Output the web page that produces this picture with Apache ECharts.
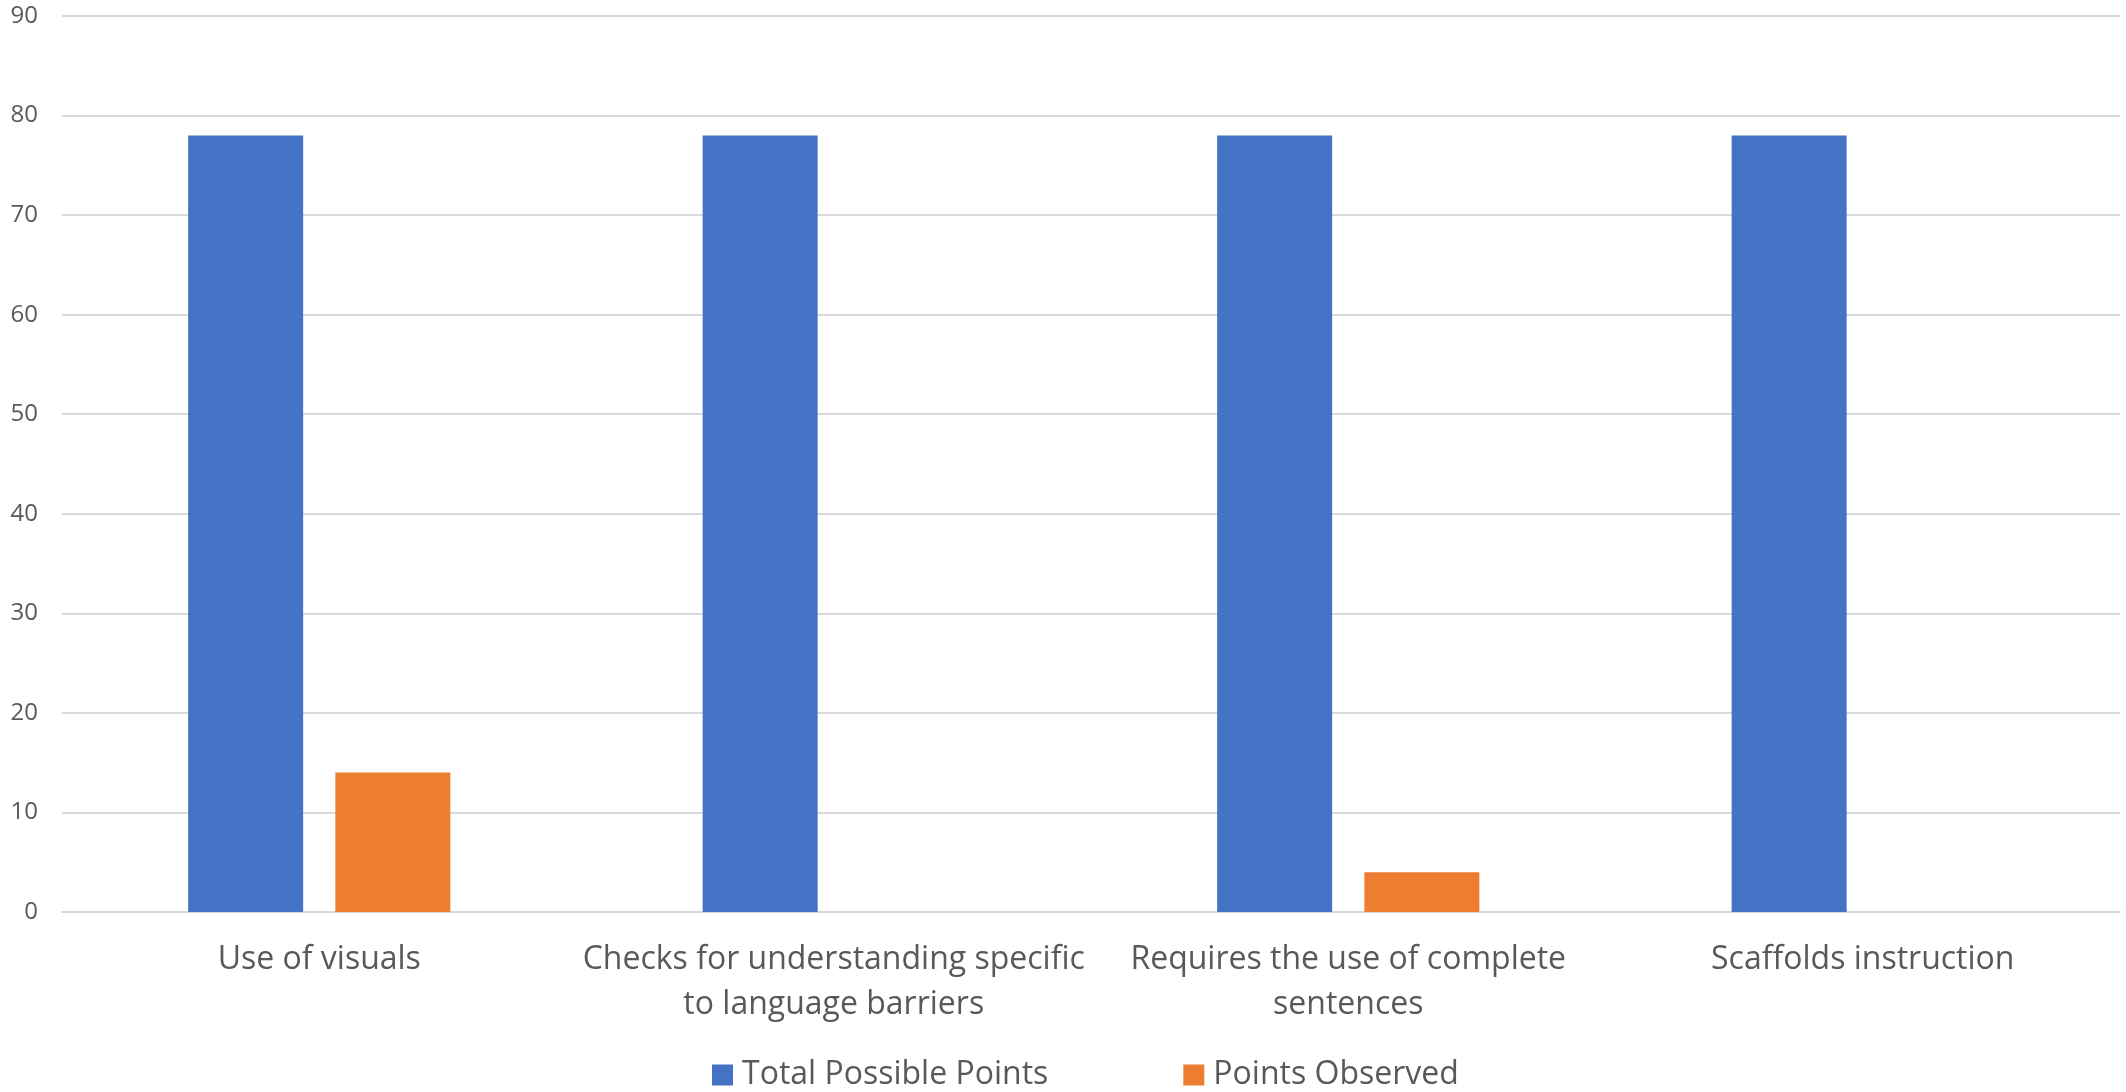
<!DOCTYPE html>
<html>
<head>
<meta charset="utf-8">
<script src="https://cdn.jsdelivr.net/npm/echarts@6/dist/echarts.min.js"></script>
<style>
  html, body { margin: 0; padding: 0; background: #ffffff; }
  #chart { width: 2126px; height: 1092px; }
</style>
</head>
<body>
<div id="chart"></div>
<script>
// Observation criteria (category labels, wrapped onto two lines where needed)
const categories = [
  'Use of visuals',
  'Checks for understanding specific\nto language barriers',
  'Requires the use of complete\nsentences',
  'Scaffolds instruction'
];
const seriesNames = ['Total Possible Points', 'Points Observed'];
const totalPossible = [78, 78, 78, 78];
const pointsObserved = [14, 0, 4, 0];

const FONT = '"Open Sans", "Noto Sans", sans-serif';
const TEXT = '#595959';

const chart = echarts.init(document.getElementById('chart'), null, { renderer: 'canvas' });
chart.setOption({
  animation: false,
  backgroundColor: '#ffffff',
  color: ['#4472C4', '#ED7D31'],
  grid: { left: 62, right: 6, top: 16, bottom: 180, containLabel: false },
  legend: {
    data: seriesNames,
    left: 707,
    top: 1054,
    itemWidth: 21,
    itemHeight: 21,
    itemGap: 135,
    icon: 'rect',
    textStyle: { fontFamily: FONT, fontSize: 32, lineHeight: 32, color: TEXT, padding: [0, 0, 0, 4] }
  },
  xAxis: {
    type: 'category',
    data: categories,
    axisLine: { show: true, lineStyle: { color: '#d9d9d9', width: 2 } },
    axisTick: { show: false },
    axisLabel: {
      interval: 0,
      margin: 25,
      fontFamily: FONT,
      fontSize: 32,
      lineHeight: 45,
      color: TEXT,
      align: 'center'
    }
  },
  yAxis: {
    type: 'value',
    min: 0,
    max: 90,
    interval: 10,
    axisLine: { show: false },
    axisTick: { show: false },
    splitLine: { lineStyle: { color: '#d9d9d9', width: 2 } },
    axisLabel: { margin: 24, fontFamily: FONT, fontSize: 24, color: TEXT }
  },
  series: [
    {
      name: seriesNames[0],
      type: 'bar',
      data: totalPossible,
      barWidth: 115,
      barGap: '28%'
    },
    {
      name: seriesNames[1],
      type: 'bar',
      data: pointsObserved,
      barWidth: 115,
      barGap: '28%'
    }
  ]
});
</script>
</body>
</html>
